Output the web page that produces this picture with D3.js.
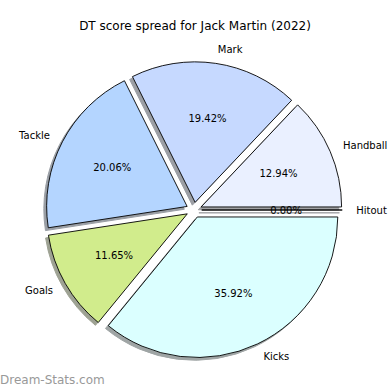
<!DOCTYPE html>
<html>
<head>
<meta charset="utf-8">
<script src="https://d3js.org/d3.v7.min.js"></script>
<style>
	body { margin: 0; background: #fff; }
	text { font-family: "DejaVu Sans", sans-serif; }
</style>
</head>
<body>
<div id="my_dataviz"></div>
<script>
var width = 390,
	height = 390;

// DT points by stat, counter-clockwise from 3 o'clock
const CATEGORIES = ["Handball", "Mark", "Tackle", "Goals", "Kicks", "Hitout"];
const POINTS = [40, 60, 62, 36, 111, 0];
const COLORS = ["#eaf0ff", "#c6d9ff", "#b4d5ff", "#d1ec8c", "#dbffff", "#eaf0ff"];
const TITLE = "DT score spread for Jack Martin (2022)";

var cx = 194,
	cy = 210,
	radius = 140.5,
	explode = 0.055;

var svg = d3
	.select("#my_dataviz")
	.append("svg")
	.attr("width", width)
	.attr("height", height);

svg
	.append("text")
	.attr("x", width / 2)
	.attr("y", 30)
	.attr("text-anchor", "middle")
	.style("font-size", "12px")
	.text(TITLE);

var data = CATEGORIES.map(function (c, i) {
	return { name: c, value: POINTS[i], color: COLORS[i] };
});

// matplotlib style: start at east, go counter-clockwise
var pie = d3
	.pie()
	.sort(null)
	.value(function (d) {
		return d.value;
	})
	.startAngle(Math.PI / 2)
	.endAngle(Math.PI / 2 - 2 * Math.PI);

var arcs = pie(data);
var total = d3.sum(POINTS);
var arc = d3.arc().innerRadius(0).outerRadius(radius);

function midDir(d) {
	var a = (d.startAngle + d.endAngle) / 2;
	return [Math.sin(a), -Math.cos(a)];
}

function offset(d) {
	var m = midDir(d);
	return [cx + m[0] * explode * radius, cy + m[1] * explode * radius];
}

var shadowShift = 0.02 * radius;

// shadows under all wedges
svg
	.append("g")
	.selectAll("path")
	.data(arcs)
	.enter()
	.append("path")
	.attr("transform", function (d) {
		var o = offset(d);
		return "translate(" + (o[0] - shadowShift) + "," + (o[1] + shadowShift) + ")";
	})
	.attr("d", arc)
	.attr("fill", function (d) {
		var c = d3.rgb(d.data.color);
		return d3.rgb(c.r * 0.3, c.g * 0.3, c.b * 0.3);
	})
	.attr("stroke", function (d) {
		var c = d3.rgb(d.data.color);
		return d3.rgb(c.r * 0.3, c.g * 0.3, c.b * 0.3);
	})
	.attr("stroke-width", 1)
	.attr("opacity", 0.5);

svg
	.append("g")
	.selectAll("path")
	.data(arcs)
	.enter()
	.append("path")
	.attr("transform", function (d) {
		var o = offset(d);
		return "translate(" + o[0] + "," + o[1] + ")";
	})
	.attr("d", arc)
	.attr("fill", function (d) {
		return d.data.color;
	})
	.attr("stroke", "#000")
	.attr("stroke-width", 0.9)
	.attr("stroke-linejoin", "round");

// category labels
svg
	.append("g")
	.selectAll("text")
	.data(arcs)
	.enter()
	.append("text")
	.attr("x", function (d) {
		return offset(d)[0] + midDir(d)[0] * radius * 1.1;
	})
	.attr("y", function (d) {
		return offset(d)[1] + midDir(d)[1] * radius * 1.1;
	})
	.attr("dy", "0.35em")
	.attr("text-anchor", function (d) {
		return midDir(d)[0] > 0 ? "start" : "end";
	})
	.style("font-size", "10px")
	.text(function (d) {
		return d.data.name;
	});

// percentages
svg
	.append("g")
	.selectAll("text")
	.data(arcs)
	.enter()
	.append("text")
	.attr("x", function (d) {
		return offset(d)[0] + midDir(d)[0] * radius * 0.6;
	})
	.attr("y", function (d) {
		return offset(d)[1] + midDir(d)[1] * radius * 0.6;
	})
	.attr("dy", "0.35em")
	.attr("text-anchor", "middle")
	.style("font-size", "10px")
	.text(function (d) {
		return d3.format(".2f")((d.data.value / total) * 100) + "%";
	});

svg
	.append("text")
	.attr("x", 0)
	.attr("y", 384)
	.attr("fill", "#999")
	.style("font-size", "12px")
	.text("Dream-Stats.com");
</script>
</body>
</html>
